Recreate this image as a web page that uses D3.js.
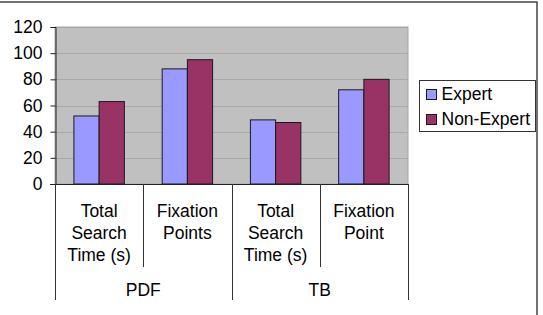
<!DOCTYPE html>
<html>
<head>
<meta charset="utf-8">
<script src="https://cdn.jsdelivr.net/npm/d3@7"></script>
<style>
  html, body { margin: 0; padding: 0; background: #fff; }
  svg { display: block; font-family: Arial, "Liberation Sans", sans-serif; }
</style>
</head>
<body>
<svg id="chart" width="543" height="315"></svg>
<script>
// ---- data ----
const categories = ["Total Search Time (s)", "Fixation Points", "Total Search Time (s)", "Fixation Point"];
const categoryLines = [["Total", "Search", "Time (s)"], ["Fixation", "Points"], ["Total", "Search", "Time (s)"], ["Fixation", "Point"]];
const groups = ["PDF", "TB"];
const groupOfCategory = [0, 0, 1, 1];
const series = ["Expert", "Non-Expert"];
const expertValues = [52, 88, 49, 72];
const nonExpertValues = [63, 95, 47, 80];
const yTicks = [0, 20, 40, 60, 80, 100, 120];
const colors = ["#9999FF", "#993366"];

// ---- layout ----
const svg = d3.select("#chart");
const mLeft = 55, mRight = 408, mTop = 27, mBottom = 184;
const fontSize = 17.5;

const idx = d3.range(categories.length);
const x0 = d3.scaleBand().domain(idx).range([mLeft, mRight]).padding(0);
const x1 = d3.scaleBand().domain(series).range([0, x0.bandwidth()]).paddingInner(0).paddingOuter(0.75);
const y = d3.scaleLinear().domain([0, 120]).range([mBottom, mTop]);

// outer frame (top + right)
svg.append("line").attr("x1", 0).attr("x2", 537.5).attr("y1", 2).attr("y2", 2)
  .attr("stroke", "#444").attr("stroke-width", 1.5);
svg.append("line").attr("x1", 537).attr("x2", 537).attr("y1", 2).attr("y2", 315)
  .attr("stroke", "#444").attr("stroke-width", 1.5);

// plot background
svg.append("rect").attr("x", mLeft).attr("y", mTop).attr("width", mRight - mLeft).attr("height", mBottom - mTop)
  .attr("fill", "#c0c0c0").attr("stroke", "#a6a6a6").attr("stroke-width", 1);

// gridlines
svg.append("g").selectAll("line").data(yTicks.filter(d => d > 0)).join("line")
  .attr("x1", mLeft).attr("x2", mRight)
  .attr("y1", d => Math.round(y(d)) + 0.5).attr("y2", d => Math.round(y(d)) + 0.5)
  .attr("stroke", "#a8a8a8").attr("stroke-width", 1);

// bars
const seriesValues = [expertValues, nonExpertValues];
series.forEach((s, si) => {
  svg.append("g").selectAll("rect").data(idx).join("rect")
    .attr("x", i => x0(i) + x1(s))
    .attr("y", i => y(seriesValues[si][i]))
    .attr("width", x1.bandwidth())
    .attr("height", i => y(0) - y(seriesValues[si][i]))
    .attr("fill", colors[si])
    .attr("stroke", "#1a1a1a").attr("stroke-width", 1);
});

// y axis
const yAxis = d3.axisLeft(y).tickValues(yTicks).tickSize(5).tickPadding(8).tickFormat(d3.format("d"));
const gy = svg.append("g").attr("transform", `translate(${mLeft + 0.5},0)`).call(yAxis);
gy.select(".domain").attr("stroke", "#222");
gy.selectAll(".tick line").attr("stroke", "#222");
gy.selectAll(".tick text").attr("font-size", fontSize).attr("fill", "#000")
  .attr("font-family", "Arial, 'Liberation Sans', sans-serif");

// x axis baseline
svg.append("line").attr("x1", mLeft - 5).attr("x2", mRight).attr("y1", mBottom + 0.5).attr("y2", mBottom + 0.5)
  .attr("stroke", "#222").attr("stroke-width", 1);

// category dividers
const boundaries = d3.range(categories.length + 1);
svg.append("g").selectAll("line").data(boundaries).join("line")
  .attr("x1", i => Math.round(i < categories.length ? x0(i) : mRight) + 0.5)
  .attr("x2", i => Math.round(i < categories.length ? x0(i) : mRight) + 0.5)
  .attr("y1", mBottom)
  .attr("y2", i => (i % 2 === 0 ? 300 : 267))
  .attr("stroke", "#333").attr("stroke-width", 1);

// category labels
const catG = svg.append("g").attr("font-size", fontSize).attr("text-anchor", "middle").attr("fill", "#000");
idx.forEach(i => {
  const t = catG.append("text").attr("x", x0(i) + x0.bandwidth() / 2).attr("y", 216.5);
  categoryLines[i].forEach((ln, k) => {
    t.append("tspan").attr("x", x0(i) + x0.bandwidth() / 2).attr("dy", k === 0 ? 0 : 22.3).text(ln);
  });
});

// group labels
groups.forEach((g, gi) => {
  const cats = idx.filter(i => groupOfCategory[i] === gi);
  const gx0 = x0(cats[0]);
  const gx1 = x0(cats[cats.length - 1]) + x0.bandwidth();
  svg.append("text").attr("x", (gx0 + gx1) / 2).attr("y", 296)
    .attr("font-size", fontSize).attr("text-anchor", "middle").attr("fill", "#000").text(g);
});

// legend
const lg = svg.append("g");
lg.append("rect").attr("x", 419.5).attr("y", 80.5).attr("width", 116).attr("height", 51)
  .attr("fill", "#fff").attr("stroke", "#333").attr("stroke-width", 1);
series.forEach((s, si) => {
  const yy = 89 + si * 25;
  lg.append("rect").attr("x", 426.5).attr("y", yy + 0.5).attr("width", 10).attr("height", 10)
    .attr("fill", colors[si]).attr("stroke", "#1a1a1a").attr("stroke-width", 1);
  lg.append("text").attr("x", 441.5).attr("y", yy + 11).attr("font-size", fontSize).attr("fill", "#000").text(s);
});
</script>
</body>
</html>
